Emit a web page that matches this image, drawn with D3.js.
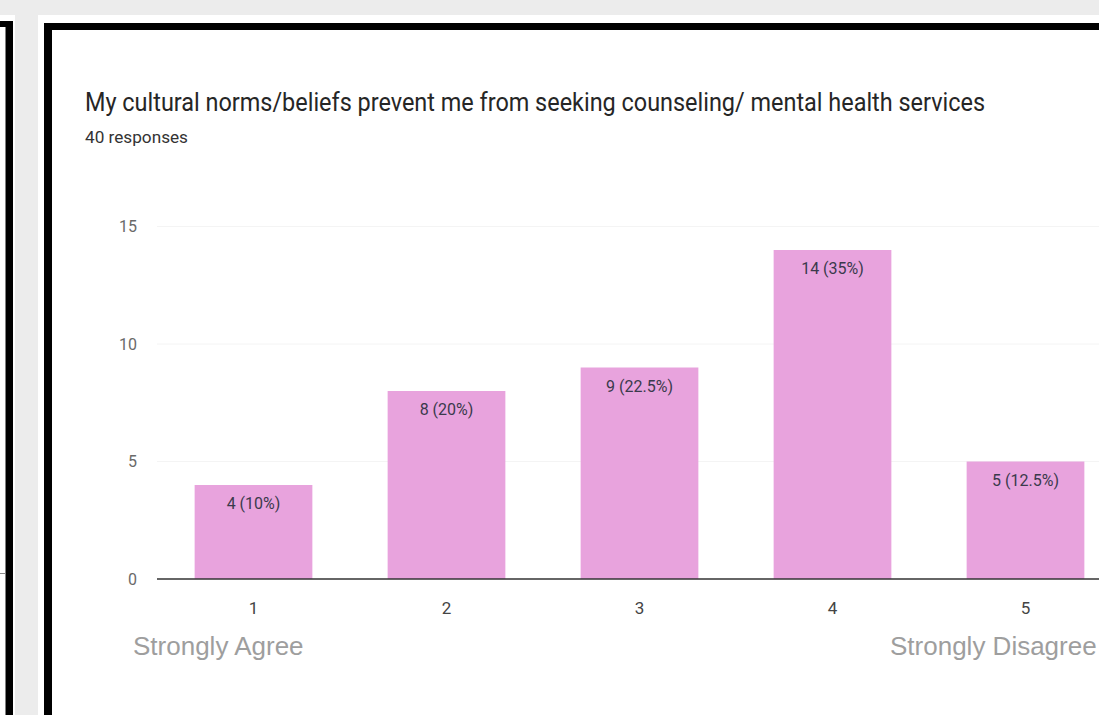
<!DOCTYPE html>
<html>
<head>
<meta charset="utf-8">
<script src="https://cdn.jsdelivr.net/npm/d3@7"></script>
<style>
  html, body { margin: 0; padding: 0; background: #ececec; }
  svg { display: block; }
</style>
</head>
<body>
<svg id="chart" width="1099" height="715"></svg>
<script>
// ---- data ----
const categories = ["1", "2", "3", "4", "5"];
const counts = [4, 8, 9, 14, 5];
const percents = ["10%", "20%", "22.5%", "35%", "12.5%"];
const yTicks = [0, 5, 10, 15];
const title = "My cultural norms/beliefs prevent me from seeking counseling/ mental health services";
const subtitle = "40 responses";
const scaleEnds = ["Strongly Agree", "Strongly Disagree"];

const W = 1099, H = 715;
const svg = d3.select("#chart");

// background
svg.append("rect").attr("width", W).attr("height", H).attr("fill", "#ececec");

// left panel remnant
svg.append("rect").attr("x", 0).attr("y", 15).attr("width", 15).attr("height", H - 15).attr("fill", "#ffffff");
svg.append("rect").attr("x", 0).attr("y", 21).attr("width", 13).attr("height", H - 21).attr("fill", "#000");
svg.append("rect").attr("x", 0).attr("y", 27).attr("width", 5.5).attr("height", H - 27).attr("fill", "#ffffff");
svg.append("line").attr("x1", 0).attr("x2", 5.5).attr("y1", 573.5).attr("y2", 573.5)
  .attr("stroke", "#888").attr("stroke-width", 1);

// right panel
svg.append("rect").attr("x", 38).attr("y", 15).attr("width", W - 38).attr("height", H - 15).attr("fill", "#ffffff");
svg.append("rect").attr("x", 44).attr("y", 23).attr("width", W - 44).attr("height", H - 23).attr("fill", "#000");
svg.append("rect").attr("x", 52).attr("y", 30).attr("width", W - 52).attr("height", H - 30).attr("fill", "#ffffff");

// titles
svg.append("text")
  .attr("x", 85).attr("y", 111)
  .attr("font-family", "Roboto, 'Noto Sans', sans-serif")
  .attr("font-size", 26)
  .attr("fill", "#262626")
  .attr("textLength", 900)
  .attr("lengthAdjust", "spacingAndGlyphs")
  .text(title);

svg.append("text")
  .attr("x", 85).attr("y", 143)
  .attr("font-family", "Roboto, 'Noto Sans', sans-serif")
  .attr("font-size", 16)
  .attr("fill", "#333")
  .attr("textLength", 103)
  .attr("lengthAdjust", "spacingAndGlyphs")
  .text(subtitle);

// scales
const x = d3.scaleBand().domain(categories).range([157, 1122]).paddingInner(0.39).paddingOuter(0.195);
const y = d3.scaleLinear().domain([0, 15]).range([579, 226.5]);

// faint gridlines
svg.append("g").selectAll("line").data(yTicks.filter(d => d > 0)).join("line")
  .attr("x1", 157).attr("x2", W)
  .attr("y1", d => y(d)).attr("y2", d => y(d))
  .attr("stroke", "#f4f4f4").attr("stroke-width", 1);

// y axis labels
const yAxis = d3.axisLeft(y).tickValues(yTicks).tickSize(0).tickPadding(0);
const gy = svg.append("g").attr("transform", "translate(137,0)").call(yAxis);
gy.select(".domain").remove();
gy.selectAll("text")
  .attr("font-family", "Roboto, 'Noto Sans', sans-serif")
  .attr("font-size", 16)
  .attr("fill", "#6a6a6a");

// bars
svg.append("g").selectAll("rect").data(categories).join("rect")
  .attr("x", d => x(d))
  .attr("width", x.bandwidth())
  .attr("y", (d, i) => y(counts[i]))
  .attr("height", (d, i) => y(0) - y(counts[i]))
  .attr("fill", "#e8a3dd");

// bar labels
svg.append("g").selectAll("text").data(categories).join("text")
  .attr("x", d => x(d) + x.bandwidth() / 2)
  .attr("y", (d, i) => y(counts[i]) + 24)
  .attr("text-anchor", "middle")
  .attr("font-family", "Roboto, 'Noto Sans', sans-serif")
  .attr("font-size", 16)
  .attr("fill", "#3a3a4c")
  .text((d, i) => `${counts[i]} (${percents[i]})`);

// x axis
const xAxis = d3.axisBottom(x).tickSize(0).tickPadding(0);
const gx = svg.append("g").attr("transform", `translate(0,${y(0)})`).call(xAxis);
gx.select(".domain").remove();
gx.selectAll("text")
  .attr("dy", 0)
  .attr("y", 35)
  .attr("font-family", "Roboto, 'Noto Sans', sans-serif")
  .attr("font-size", 17)
  .attr("fill", "#444");
svg.append("line")
  .attr("x1", 157).attr("x2", W)
  .attr("y1", y(0)).attr("y2", y(0))
  .attr("stroke", "#333").attr("stroke-width", 1.5);

// scale end labels
svg.append("text")
  .attr("x", 133).attr("y", 655)
  .attr("font-family", "'Liberation Sans', Arial, sans-serif")
  .attr("font-size", 26)
  .attr("fill", "#9e9e9e")
  .text(scaleEnds[0]);
svg.append("text")
  .attr("x", 890).attr("y", 655)
  .attr("font-family", "'Liberation Sans', Arial, sans-serif")
  .attr("font-size", 26)
  .attr("fill", "#9e9e9e")
  .text(scaleEnds[1]);
</script>
</body>
</html>
